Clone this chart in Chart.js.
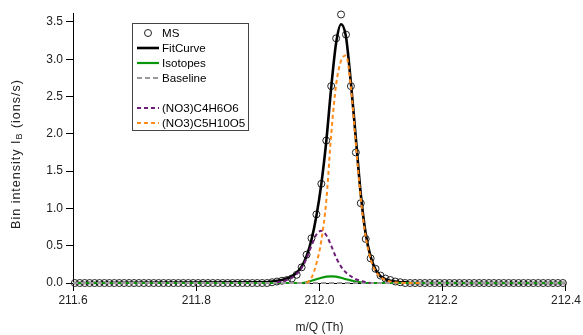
<!DOCTYPE html>
<html>
<head>
<meta charset="utf-8">
<script src="https://cdn.jsdelivr.net/npm/chart.js@4"></script>
<style>
  html, body { margin: 0; padding: 0; background: #fff; }
  #wrap { width: 583px; height: 335px; position: relative; }
</style>
</head>
<body>
<div id="wrap"><canvas id="peakChart"></canvas></div>
<script>
// measured spectrum (m/Q in Th, intensity in ions/s)
const mzMS = [
  211.603, 211.611, 211.619, 211.627, 211.635, 211.643, 211.651, 211.659, 211.667, 211.675,
  211.683, 211.691, 211.699, 211.707, 211.715, 211.723, 211.731, 211.739, 211.747, 211.755,
  211.763, 211.771, 211.779, 211.787, 211.795, 211.803, 211.811, 211.819, 211.827, 211.835,
  211.843, 211.851, 211.859, 211.867, 211.875, 211.883, 211.891, 211.899, 211.907, 211.915,
  211.923, 211.931, 211.939, 211.947, 211.955, 211.963, 211.971, 211.979, 211.987, 211.995,
  212.003, 212.011, 212.019, 212.027, 212.035, 212.043, 212.051, 212.059, 212.067, 212.075,
  212.083, 212.091, 212.099, 212.107, 212.115, 212.123, 212.131, 212.139, 212.147, 212.155,
  212.163, 212.171, 212.179, 212.187, 212.195, 212.203, 212.211, 212.219, 212.227, 212.235,
  212.243, 212.251, 212.259, 212.267, 212.275, 212.283, 212.291, 212.299, 212.307, 212.315,
  212.323, 212.331, 212.339, 212.347, 212.355, 212.363, 212.371, 212.379, 212.387, 212.395
];
const intensityMS = [
  0, 0, 0, 0, 0, 0, 0, 0, 0, 0,
  0, 0, 0, 0, 0, 0, 0, 0, 0, 0,
  0, 0, 0, 0, 0, 0, 0, 0, 0, 0,
  0, 0, 0, 0, 0, 0, 0, 0, 0, 0,
  0.01, 0.02, 0.03, 0.04, 0.06, 0.11, 0.21, 0.38, 0.60, 0.92,
  1.33, 1.91, 2.64, 3.28, 3.60, 3.33, 2.64, 1.75, 1.07, 0.59,
  0.33, 0.19, 0.10, 0.06, 0.04, 0.02, 0.01, 0, 0, 0,
  0, 0, 0, 0, 0, 0, 0, 0, 0, 0,
  0, 0, 0, 0, 0, 0, 0, 0, 0, 0,
  0, 0, 0, 0, 0, 0, 0, 0, 0, 0
];

// fitted curves share one m/Q grid
const mzCurve = [
  211.6,
  211.907, 211.915, 211.923, 211.931, 211.939, 211.947, 211.955, 211.963, 211.971, 211.979,
  211.987, 211.995, 212.003, 212.011, 212.019, 212.027, 212.035, 212.043, 212.051, 212.059,
  212.067, 212.075, 212.083, 212.091, 212.099, 212.107, 212.115, 212.123, 212.131, 212.139,
  212.147, 212.155, 212.163,
  212.4
];
const fitCurve = [
  0,
  0.01, 0.01, 0.02, 0.03, 0.04, 0.06, 0.09, 0.14, 0.22, 0.36,
  0.58, 0.90, 1.33, 1.90, 2.62, 3.22, 3.47, 3.30, 2.68, 1.94,
  1.19, 0.66, 0.35, 0.18, 0.09, 0.05, 0.03, 0.02, 0.01, 0.01,
  0, 0, 0,
  0
];
const isotopes = [
  0,
  0, 0, 0, 0, 0, 0, 0, 0, 0, 0.01,
  0.03, 0.05, 0.07, 0.085, 0.09, 0.085, 0.07, 0.05, 0.035, 0.02,
  0.01, 0, 0, 0, 0, 0, 0, 0, 0, 0,
  0, 0, 0,
  0
];
const c4h6o6 = [
  null,
  null, null, null, 0.01, 0.02, 0.04, 0.07, 0.12, 0.20, 0.33,
  0.50, 0.65, 0.70, 0.64, 0.50, 0.34, 0.22, 0.14, 0.09, 0.05,
  0.03, 0.01, 0, null, null, null, null, null, null, null,
  null, null, null,
  null
];
const c5h10o5 = [
  null,
  null, null, null, null, null, null, null, null, null, 0,
  0.07, 0.26, 0.57, 1.10, 1.99, 2.66, 2.98, 3.05, 2.62, 1.86,
  1.13, 0.62, 0.32, 0.16, 0.08, 0.04, 0.02, 0.01, 0.005, 0,
  0, 0, 0,
  null
];
const mzBaseline = [211.6, 212.4];
const baseline = [0, 0];

const xTicks = [211.6, 211.8, 212.0, 212.2, 212.4];
const yTicks = [0, 0.5, 1.0, 1.5, 2.0, 2.5, 3.0, 3.5];

function pairs(xs, ys) {
  return xs.map((x, i) => ({ x, y: ys[i] }));
}

const FONT = "'Liberation Sans', Arial, sans-serif";
const TEXT = "#222";

function lineSet(label, xs, ys, color, width, dash, order) {
  return {
    label,
    data: pairs(xs, ys),
    showLine: true,
    borderColor: color,
    backgroundColor: color,
    borderWidth: width,
    borderDash: dash,
    pointRadius: 0,
    pointHoverRadius: 0,
    cubicInterpolationMode: "monotone",
    spanGaps: false,
    clip: false,
    order,
  };
}

const datasets = [
  {
    label: "MS",
    data: pairs(mzMS, intensityMS),
    showLine: false,
    pointStyle: "circle",
    pointRadius: 3.5,
    pointBorderWidth: 1,
    pointBorderColor: "#222",
    pointBackgroundColor: "rgba(0,0,0,0)",
    borderColor: "#222",
    clip: false,
    order: 6,
  },
  lineSet("FitCurve", mzCurve, fitCurve, "#000", 2.6, [], 5),
  lineSet("Isotopes", mzCurve, isotopes, "#0a960a", 2.2, [], 4),
  lineSet("Baseline", mzBaseline, baseline, "#9a9a9a", 2, [5, 3], 3),
  lineSet("(NO3)C4H6O6", mzCurve, c4h6o6, "#6e1e78", 2, [4, 3], 2),
  lineSet("(NO3)C5H10O5", mzCurve, c5h10o5, "#ff8c1a", 2, [4, 3], 1),
];

// boxed legend in the upper left, with an empty row before the components
const boxLegend = {
  id: "boxLegend",
  afterDraw(chart) {
    const { ctx } = chart;
    const rows = [33, 48, 63, 78, 108, 123];
    ctx.save();
    ctx.fillStyle = "#fff";
    ctx.fillRect(132.5, 23.5, 116, 107);
    ctx.strokeStyle = "#444";
    ctx.lineWidth = 1;
    ctx.strokeRect(132.5, 23.5, 116, 107);
    ctx.font = "11.6px " + FONT;
    ctx.textBaseline = "middle";
    chart.data.datasets.forEach((ds, i) => {
      const y = rows[i];
      if (ds.showLine) {
        ctx.beginPath();
        ctx.setLineDash(ds.borderDash || []);
        ctx.strokeStyle = ds.borderColor;
        ctx.lineWidth = ds.borderWidth;
        ctx.moveTo(137, y);
        ctx.lineTo(159, y);
        ctx.stroke();
        ctx.setLineDash([]);
      } else {
        ctx.beginPath();
        ctx.strokeStyle = ds.pointBorderColor;
        ctx.lineWidth = 1;
        ctx.arc(148, y, 3.5, 0, Math.PI * 2);
        ctx.stroke();
      }
      ctx.fillStyle = "#000";
      ctx.fillText(ds.label, 162, y + 0.5);
    });
    ctx.restore();
  },
};

// y title with a subscript B
const yTitle = {
  id: "yTitle",
  afterDraw(chart) {
    const { ctx, chartArea } = chart;
    const main = "12.5px " + FONT;
    const small = "9px " + FONT;
    const a = "Bin intensity I";
    const b = "B";
    const c = " (ions/s)";
    ctx.save();
    ctx.letterSpacing = "1px";
    ctx.font = main;
    const wa = ctx.measureText(a).width;
    const wc = ctx.measureText(c).width;
    ctx.font = small;
    const wb = ctx.measureText(b).width;
    const total = wa + wb + wc;
    ctx.translate(17, (chartArea.top + chartArea.bottom) / 2 + 6);
    ctx.rotate(-Math.PI / 2);
    ctx.fillStyle = TEXT;
    ctx.textBaseline = "middle";
    let x = -total / 2;
    ctx.font = main;
    ctx.fillText(a, x, 0);
    x += wa;
    ctx.font = small;
    ctx.fillText(b, x, 3);
    x += wb;
    ctx.font = main;
    ctx.fillText(c, x, 0);
    ctx.restore();
  },
};

new Chart(document.getElementById("peakChart"), {
  type: "scatter",
  data: { datasets },
  plugins: [boxLegend, yTitle],
  options: {
    responsive: true,
    maintainAspectRatio: false,
    animation: false,
    events: [],
    layout: { padding: { left: 0, right: 13, top: 13, bottom: 0 } },
    plugins: {
      legend: { display: false },
      tooltip: { enabled: false },
    },
    scales: {
      x: {
        type: "linear",
        min: 211.6,
        max: 212.4,
        afterBuildTicks(scale) {
          scale.ticks = xTicks.map((v) => ({ value: v }));
        },
        afterFit(scale) {
          scale.height = 52;
        },
        ticks: {
          color: TEXT,
          font: { family: FONT, size: 12 },
          padding: 2,
          maxRotation: 0,
          callback: (v) => Number(v).toFixed(1),
        },
        grid: { drawOnChartArea: false, drawTicks: true, tickLength: 8, tickColor: "#000" },
        border: { display: true, color: "#000", width: 1 },
        title: {
          display: true,
          text: "m/Q (Th)",
          color: TEXT,
          font: { family: FONT, size: 12 },
          padding: { top: 6, bottom: 0 },
        },
      },
      y: {
        type: "linear",
        min: 0,
        max: 3.62,
        afterBuildTicks(scale) {
          scale.ticks = yTicks.map((v) => ({ value: v }));
        },
        afterFit(scale) {
          scale.width = 73;
        },
        ticks: {
          color: TEXT,
          font: { family: FONT, size: 12 },
          padding: 3,
          callback: (v) => Number(v).toFixed(1),
        },
        grid: { drawOnChartArea: false, drawTicks: true, tickLength: 7, tickColor: "#000" },
        border: { display: true, color: "#000", width: 1 },
      },
    },
  },
});
</script>
</body>
</html>
